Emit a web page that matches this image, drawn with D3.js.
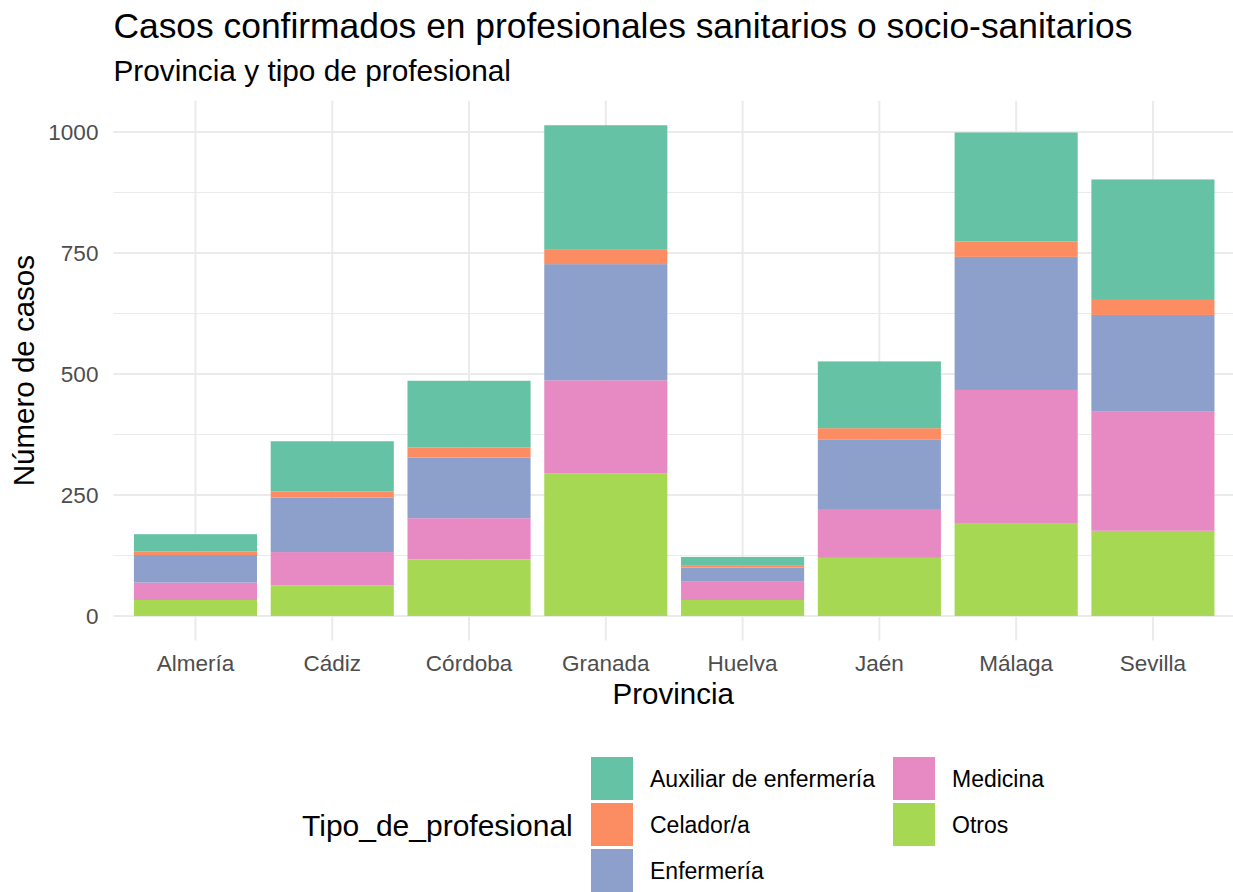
<!DOCTYPE html>
<html>
<head>
<meta charset="utf-8">
<script src="https://cdn.jsdelivr.net/npm/d3@7"></script>
<style>
  body { margin: 0; background: #fff; }
  text { font-family: "Liberation Sans", Arial, sans-serif; }
</style>
</head>
<body>
<div id="chart"></div>
<script>
// data
const provincias = ["Almería", "Cádiz", "Córdoba", "Granada", "Huelva", "Jaén", "Málaga", "Sevilla"];
const tipos = ["Auxiliar de enfermería", "Celador/a", "Enfermería", "Medicina", "Otros"];
const auxiliar   = [36, 104, 138, 256, 17, 138, 225, 249];
const celador    = [7, 12, 21, 31, 5, 24, 32, 31];
const enfermeria = [57, 113, 125, 240, 28, 143, 275, 200];
const medicina   = [36, 69, 85, 192, 39, 101, 275, 246];
const otros      = [33, 63, 117, 295, 33, 120, 192, 176];
const yTicks = [0, 250, 500, 750, 1000];
const colores = ["#66C2A5", "#FC8D62", "#8DA0CB", "#E78AC3", "#A6D854"];

const width = 1233, height = 892;
const panel = {left: 113.4, right: 1235, top: 100.7, bottom: 640.5};

const svg = d3.select('#chart')
    .append('svg')
    .attr('width', width)
    .attr('height', height);

const rows = provincias.map((p, i) => ({
    provincia: p,
    "Auxiliar de enfermería": auxiliar[i],
    "Celador/a": celador[i],
    "Enfermería": enfermeria[i],
    "Medicina": medicina[i],
    "Otros": otros[i]
}));

// ggplot puts the first level on top, so stack bottom-up in reverse
const stack = d3.stack().keys(tipos.slice().reverse());
const series = stack(rows);

const maxTotal = d3.max(series[series.length - 1], d => d[1]);
const pad = maxTotal * 0.05;

// 0.6 of a step on each side, bars 0.9 of a step wide
const x = d3.scaleBand()
    .domain(provincias)
    .range([panel.left, panel.right])
    .paddingInner(0.1)
    .paddingOuter(0.15);

const y = d3.scaleLinear()
    .domain([-pad, maxTotal + pad])
    .range([panel.bottom, panel.top]);

const color = d3.scaleOrdinal().domain(tipos).range(colores);

// grid
const grid = svg.append('g');
grid.selectAll('line.minor')
    .data(d3.range(125, 1001, 250))
    .enter().append('line')
    .attr('x1', panel.left).attr('x2', panel.right)
    .attr('y1', d => y(d)).attr('y2', d => y(d))
    .style('stroke', '#EBEBEB').style('stroke-width', 1);
grid.selectAll('line.major')
    .data(yTicks)
    .enter().append('line')
    .attr('x1', panel.left).attr('x2', panel.right)
    .attr('y1', d => y(d)).attr('y2', d => y(d))
    .style('stroke', '#EBEBEB').style('stroke-width', 2);
grid.selectAll('line.vert')
    .data(provincias)
    .enter().append('line')
    .attr('x1', d => x(d) + x.bandwidth() / 2).attr('x2', d => x(d) + x.bandwidth() / 2)
    .attr('y1', panel.top).attr('y2', panel.bottom)
    .style('stroke', '#EBEBEB').style('stroke-width', 2);

// bars
svg.append('g')
    .selectAll('g')
    .data(series)
    .enter().append('g')
    .style('fill', d => color(d.key))
    .selectAll('rect')
    .data(d => d)
    .enter().append('rect')
    .attr('x', d => x(d.data.provincia))
    .attr('width', x.bandwidth())
    .attr('y', d => y(d[1]))
    .attr('height', d => y(d[0]) - y(d[1]));

// axes text
const tickFont = g => g.selectAll('text')
    .style('font-size', '22.5px')
    .style('fill', '#4D4D4D')
    .style('font-family', '"Liberation Sans", Arial, sans-serif');

svg.append('g')
    .attr('transform', `translate(${panel.left},0)`)
    .call(d3.axisLeft(y).tickValues(yTicks).tickFormat(d3.format('d')).tickSize(0).tickPadding(15))
    .call(g => g.select('.domain').remove())
    .call(tickFont);

svg.append('g')
    .attr('transform', `translate(0,${panel.bottom})`)
    .call(d3.axisBottom(x).tickSize(0).tickPadding(15))
    .call(g => g.select('.domain').remove())
    .call(tickFont);

// titles
svg.append('text')
    .attr('x', panel.left).attr('y', 38)
    .style('font-size', '35.4px').style('fill', '#000')
    .text('Casos confirmados en profesionales sanitarios o socio-sanitarios');
svg.append('text')
    .attr('x', panel.left).attr('y', 81)
    .style('font-size', '29.8px').style('fill', '#000')
    .text('Provincia y tipo de profesional');

svg.append('text')
    .attr('x', (panel.left + panel.right) / 2 - 1).attr('y', 704)
    .attr('text-anchor', 'middle')
    .style('font-size', '29.5px')
    .text('Provincia');
svg.append('text')
    .attr('transform', `translate(34,${(panel.top + panel.bottom) / 2}) rotate(-90)`)
    .attr('text-anchor', 'middle')
    .style('font-size', '29.5px')
    .text('Número de casos');

// legend
const legend = svg.append('g');
legend.append('text')
    .attr('x', 302).attr('y', 836)
    .style('font-size', '30px')
    .text('Tipo_de_profesional');

const keyPos = tipos.map((t, i) => ({
    tipo: t,
    col: i < 3 ? 0 : 1,
    row: i < 3 ? i : i - 3
}));
const keys = legend.selectAll('g.key')
    .data(keyPos)
    .enter().append('g')
    .attr('transform', d => `translate(${d.col === 0 ? 591 : 893},${757 + d.row * 46})`);
keys.append('rect')
    .attr('width', 42).attr('height', 43)
    .style('fill', d => color(d.tipo));
keys.append('text')
    .attr('x', 59).attr('y', 30)
    .style('font-size', '23px')
    .text(d => d.tipo);
</script>
</body>
</html>
